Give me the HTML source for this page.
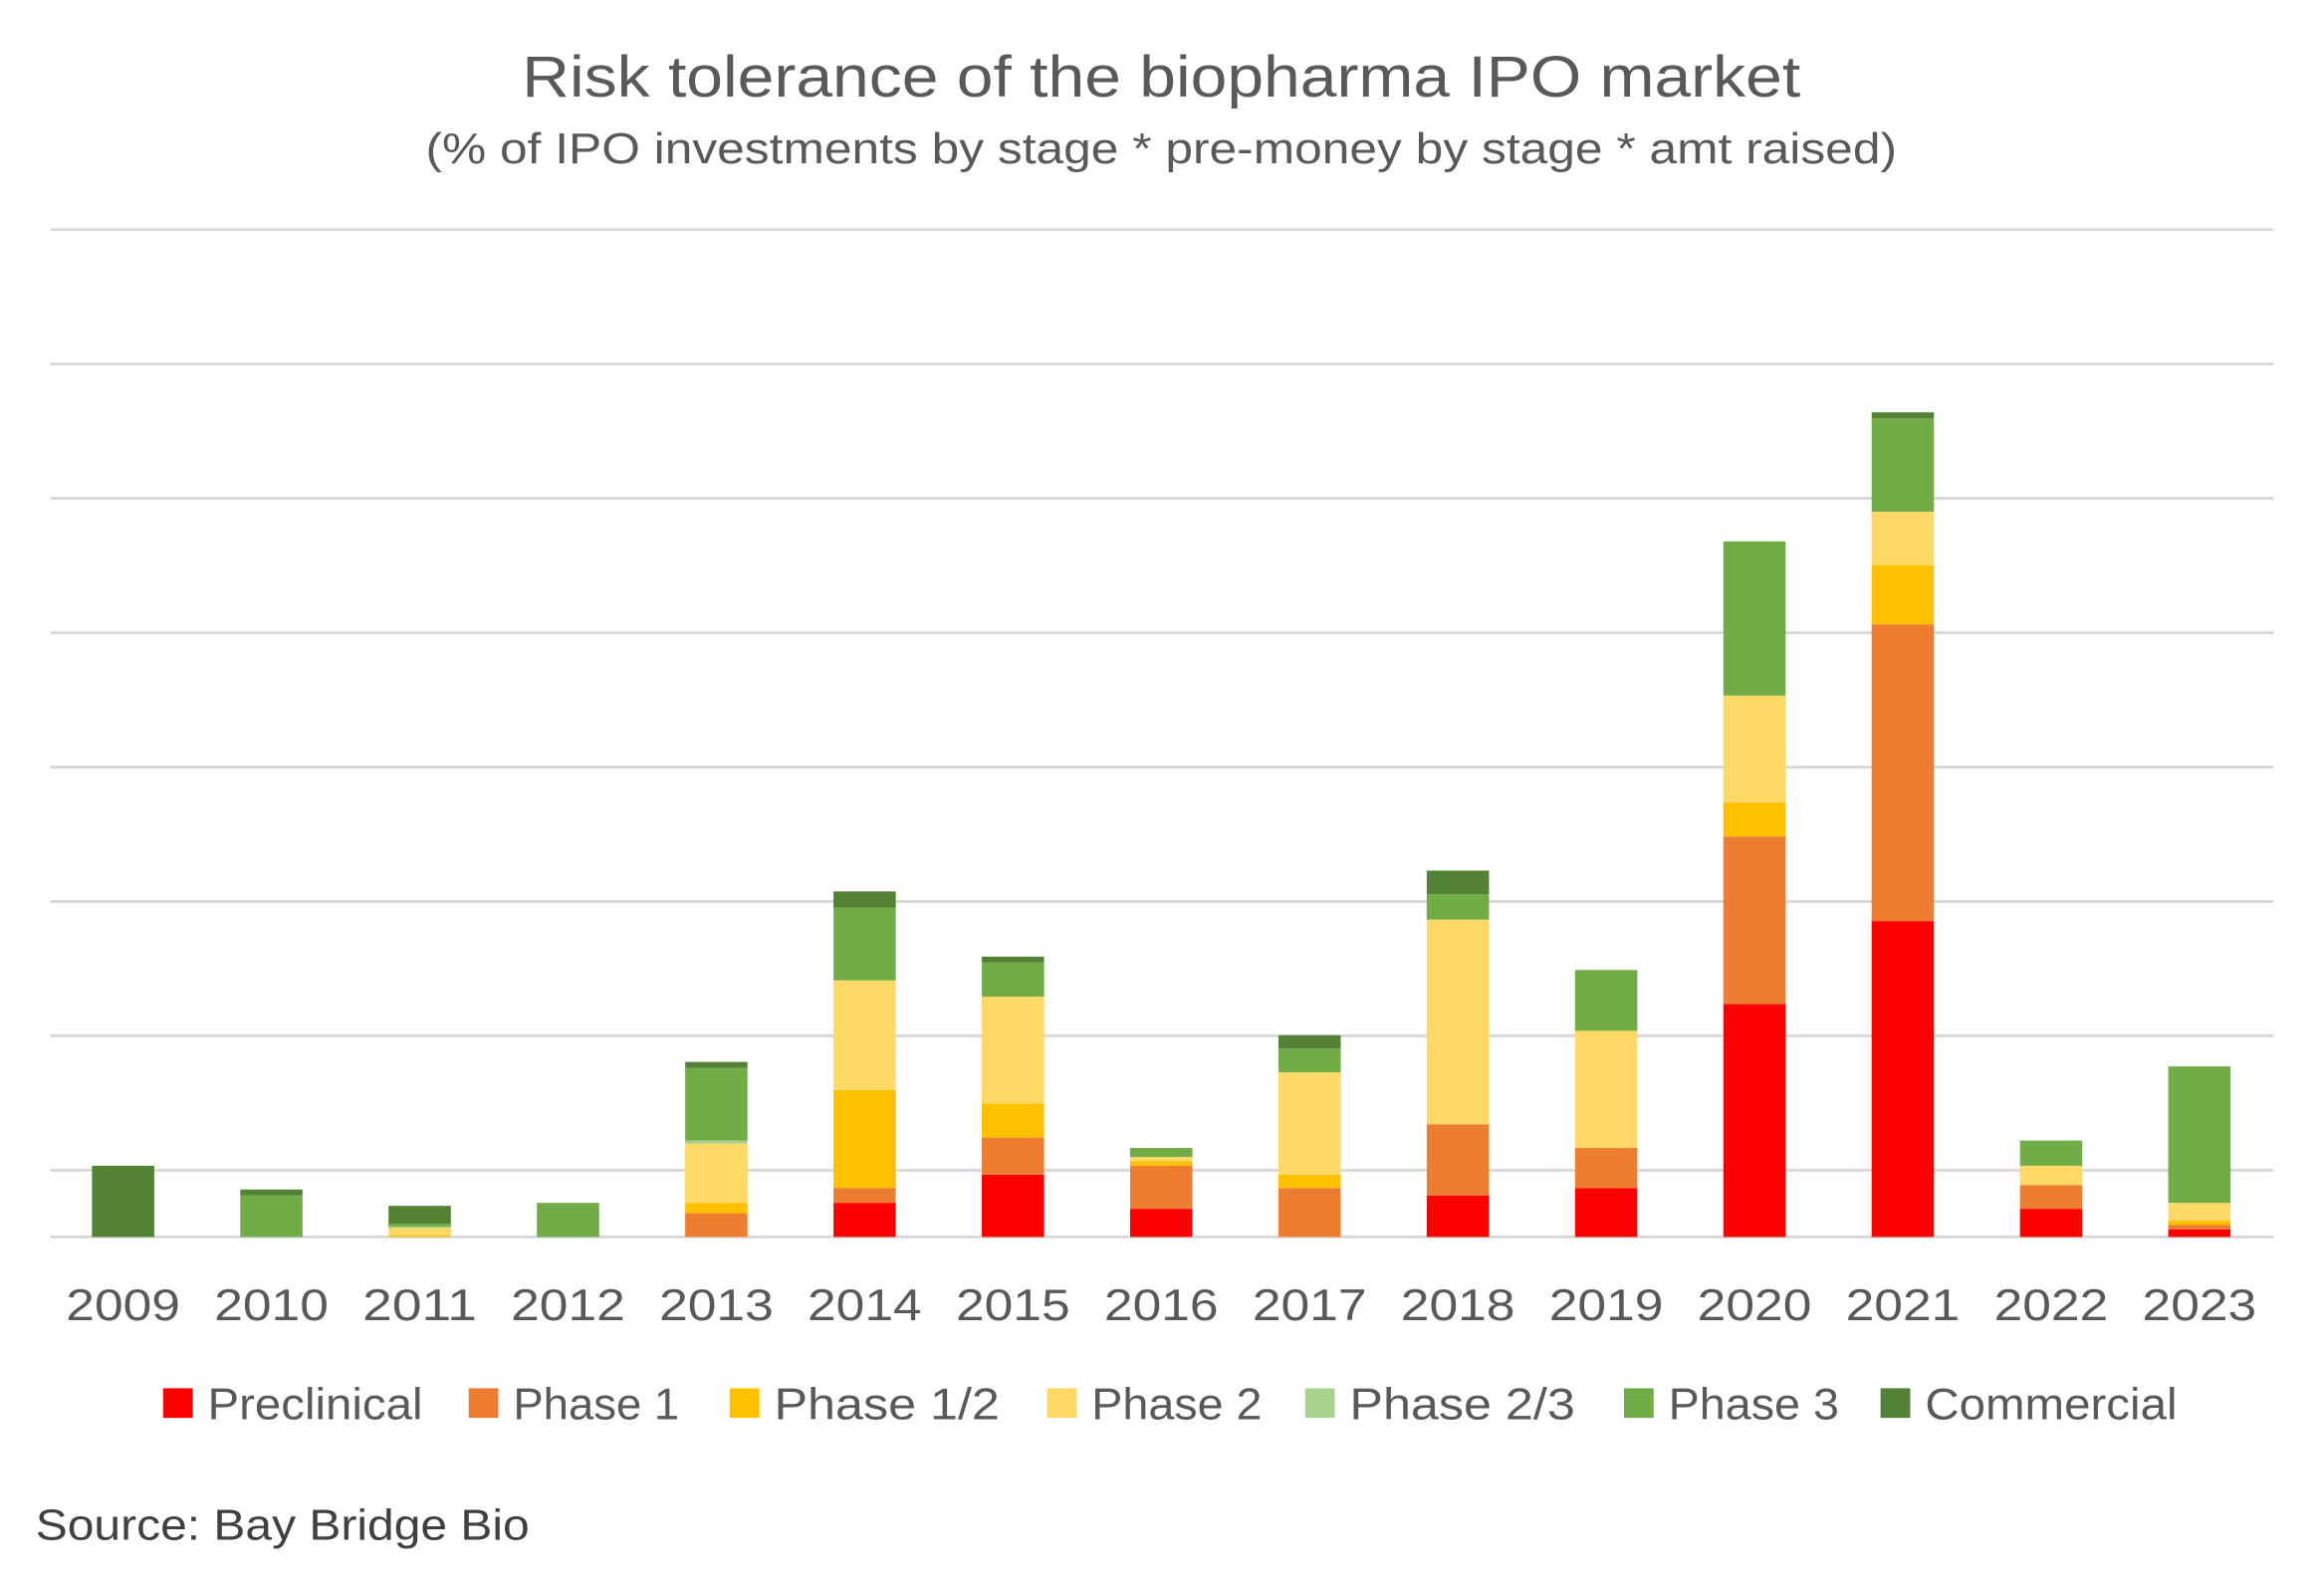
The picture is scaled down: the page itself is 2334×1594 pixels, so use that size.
<!DOCTYPE html>
<html><head><meta charset="utf-8"><style>
html,body{margin:0;padding:0;background:#fff;}
svg{display:block;font-family:"Liberation Sans",sans-serif;}
</style></head><body>
<svg id="chart" width="2334" height="1594" viewBox="0 0 1567 1070" preserveAspectRatio="none" xmlns="http://www.w3.org/2000/svg">
<rect width="1567" height="1070" fill="#fff"/>
<text x="783" y="65" text-anchor="middle" font-size="39" fill="#595959" textLength="862" lengthAdjust="spacingAndGlyphs">Risk tolerance of the biopharma IPO market</text>
<text x="783" y="110" text-anchor="middle" font-size="29" fill="#595959" textLength="992" lengthAdjust="spacingAndGlyphs">(% of IPO investments by stage * pre-money by stage * amt raised)</text>
<g id="grid"></g>
<g id="bars"></g>
<g id="xlabels"></g>
<g id="legend"></g>
<text x="24" y="1038" font-size="29" fill="#404040" textLength="333" lengthAdjust="spacingAndGlyphs">Source: Bay Bridge Bio</text>
</svg>
<script>
const years = ["2009","2010","2011","2012","2013","2014","2015","2016","2017","2018","2019","2020","2021","2022","2023"];
const seriesNames = ["Preclinical","Phase 1","Phase 1/2","Phase 2","Phase 2/3","Phase 3","Commercial"];
const preclinical = [0,0,0,0,0,2.3,4.2,1.9,0,2.8,3.3,15.7,21.3,1.9,0.5];
const phase1 = [0,0,0,0,1.6,1.0,2.5,2.9,3.3,4.8,2.7,11.3,20.0,1.6,0.3];
const phase12 = [0,0,0.1,0,0.7,6.6,2.3,0.3,0.9,0,0,2.3,4.0,0,0.3];
const phase2 = [0,0,0.5,0,4.0,7.4,7.2,0.3,6.9,13.8,7.9,7.2,3.6,1.3,1.2];
const phase23 = [0,0,0.1,0,0.2,0,0,0,0,0,0,0,0,0,0];
const phase3 = [0,2.8,0.2,2.3,4.9,4.9,2.3,0.6,1.6,1.7,4.1,10.4,6.3,1.7,9.2];
const commercial = [4.8,0.4,1.2,0,0.4,1.1,0.4,0,0.9,1.6,0,0,0.4,0,0];
const gridValues = [4.5,13.56,22.62,31.68,40.74,49.8,58.86,67.92];
const colors = ["#FF0000","#ED7D31","#FFC000","#FFD966","#A9D18E","#70AD47","#548235"];
const series = [preclinical,phase1,phase12,phase2,phase23,phase3,commercial];
const legendWidths = [145,112,152,115,152,115,170];
const NS="http://www.w3.org/2000/svg";
const y0=834, pxPerUnit=10;
function yScale(v){return y0 - v*pxPerUnit;}
function xCenter(i){return 83 + i*100;}
const bw=42;
function mk(tag,attrs,parent){const e=document.createElementNS(NS,tag);for(const k in attrs)e.setAttribute(k,attrs[k]);parent.appendChild(e);return e;}
const grid=document.getElementById('grid');
gridValues.forEach(v=>{
  const l=mk('line',{x1:34,x2:1533,y1:yScale(v),y2:yScale(v),stroke:'#D9D9D9','stroke-width':2},grid);
  
  
});
const ax=mk('line',{x1:34,x2:1533,y1:y0,y2:y0,stroke:'#D9D9D9','stroke-width':2},grid);


const bars=document.getElementById('bars');
years.forEach((yr,i)=>{
  let cum=0;
  series.forEach((s,j)=>{
    const v=s[i]; if(!v) return;
    const r=mk('rect',{x:xCenter(i)-bw/2,y:yScale(cum+v),width:bw,height:v*pxPerUnit,fill:colors[j]},bars);
    
    
    cum+=v;
  });
});
const xl=document.getElementById('xlabels');
years.forEach((yr,i)=>{
  const t=mk('text',{x:xCenter(i),y:890,'text-anchor':'middle','font-size':30,fill:'#595959',textLength:77,lengthAdjust:'spacingAndGlyphs'},xl);
  t.textContent=yr;
  
  
});
const lg=document.getElementById('legend');
const legX=[110,316,492,706,880,1095,1268];
seriesNames.forEach((n,j)=>{
  const r=mk('rect',{x:legX[j],y:936,width:20,height:20,fill:colors[j]},lg);
  
  
  const t=mk('text',{x:legX[j]+30,y:957,'font-size':30,fill:'#595959',textLength:legendWidths[j],lengthAdjust:'spacingAndGlyphs'},lg);
  t.textContent=n;
  
  
});
</script>
</body></html>
